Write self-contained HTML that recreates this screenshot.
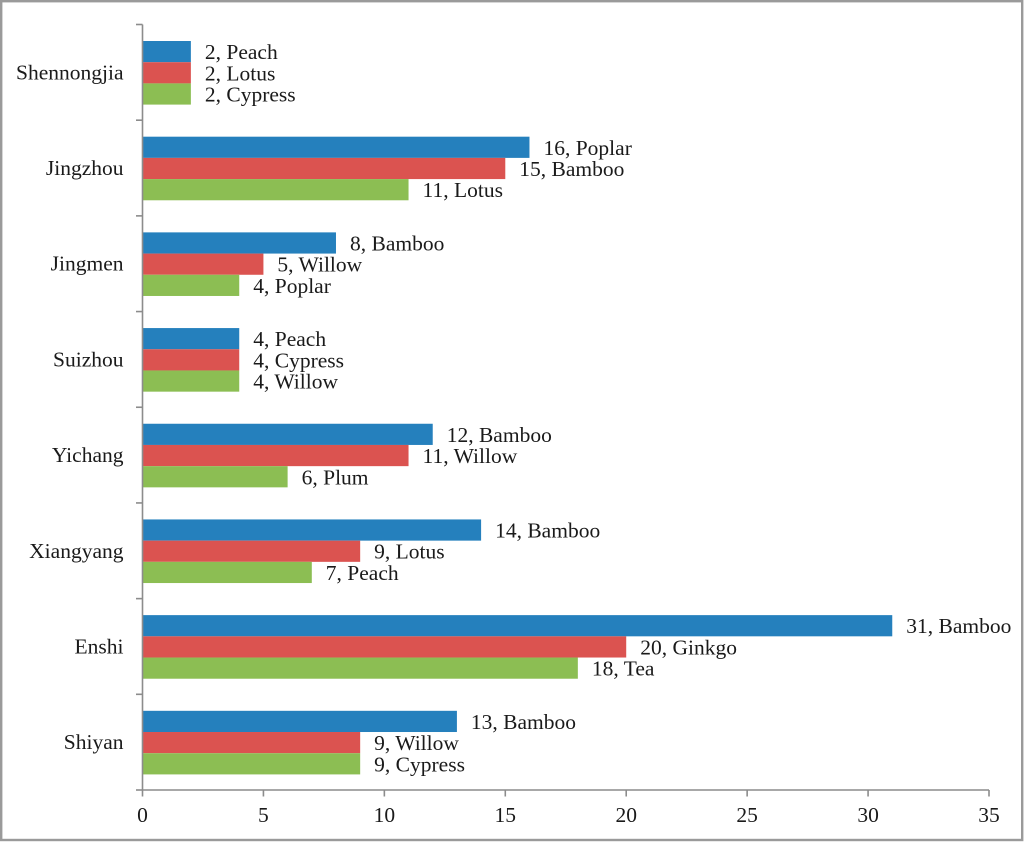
<!DOCTYPE html>
<html>
<head>
<meta charset="utf-8">
<style>
html,body{margin:0;padding:0;background:#fff;}
svg{display:block;}
text{font-family:"Liberation Serif",serif;font-size:21.5px;fill:#1a1a1a;}
</style>
</head>
<body>
<svg id="chart" width="1024" height="842" viewBox="0 0 1024 842" xmlns="http://www.w3.org/2000/svg"></svg>
<script>
const categories = ["Shennongjia","Jingzhou","Jingmen","Suizhou","Yichang","Xiangyang","Enshi","Shiyan"];
const blueValues = [2,16,8,4,12,14,31,13];
const redValues = [2,15,5,4,11,9,20,9];
const greenValues = [2,11,4,4,6,7,18,9];
const blueNames = ["Peach","Poplar","Bamboo","Peach","Bamboo","Bamboo","Bamboo","Bamboo"];
const redNames = ["Lotus","Bamboo","Willow","Cypress","Willow","Lotus","Ginkgo","Willow"];
const greenNames = ["Cypress","Lotus","Poplar","Willow","Plum","Peach","Tea","Cypress"];
const xTicks = [0,5,10,15,20,25,30,35];

const svg = document.getElementById('chart');
const NS = 'http://www.w3.org/2000/svg';
const left = 142.5, right = 989, top_ = 24.5, bottom = 790, xMax = 35;
const xScale = v => left + (right - left) * v / xMax;
const bandH = (bottom - top_) / categories.length;
const bandY = i => top_ + bandH * i;
const barH = 21.2, barPad = 16.5;

function make(tag, attrs, text) {
  const el = document.createElementNS(NS, tag);
  for (const k in attrs) el.setAttribute(k, attrs[k]);
  if (text !== undefined) el.textContent = text;
  svg.appendChild(el);
  return el;
}

const frame = make('rect', {x:1.2,y:1.2,width:1021,height:838.8,fill:'#fff',stroke:'#9a9a9a','stroke-width':2.4});



const seriesList = [
  {key:'blue', values:blueValues, names:blueNames, color:'#2580bd'},
  {key:'red', values:redValues, names:redNames, color:'#db5350'},
  {key:'green', values:greenValues, names:greenNames, color:'#8cbe53'}
];

categories.forEach((cat, i) => {
  const label = make('text', {x:123.5, y:bandY(i) + bandH / 2 + 7, 'text-anchor':'end'}, cat);
  
  
  seriesList.forEach((s, j) => {
    const y = bandY(i) + barPad + j * barH;
    const bar = make('rect', {x:left, y:y, width:xScale(s.values[i]) - left, height:barH, fill:s.color});
    
    
    const val = make('text', {x:xScale(s.values[i]) + 14, y:y + barH / 2 + 7.5}, s.values[i] + ', ' + s.names[i]);
    
    
  });
});

const yAxis = make('line', {x1:left, x2:left, y1:top_, y2:bottom, stroke:'#8c8c8c','stroke-width':1.6});


const xAxis = make('line', {x1:left, x2:right, y1:bottom, y2:bottom, stroke:'#8c8c8c','stroke-width':1.6});



for (let i = 0; i <= categories.length; i++) {
  const t = make('line', {x1:left - 6.5, x2:left, y1:bandY(i), y2:bandY(i), stroke:'#8c8c8c','stroke-width':1.6});
  
  
}

xTicks.forEach(v => {
  const t = make('line', {x1:xScale(v), x2:xScale(v), y1:bottom, y2:bottom + 6.5, stroke:'#8c8c8c','stroke-width':1.6});
  
  
  const l = make('text', {x:xScale(v), y:822, 'text-anchor':'middle'}, String(v));
  
  
});
</script>
</body>
</html>
